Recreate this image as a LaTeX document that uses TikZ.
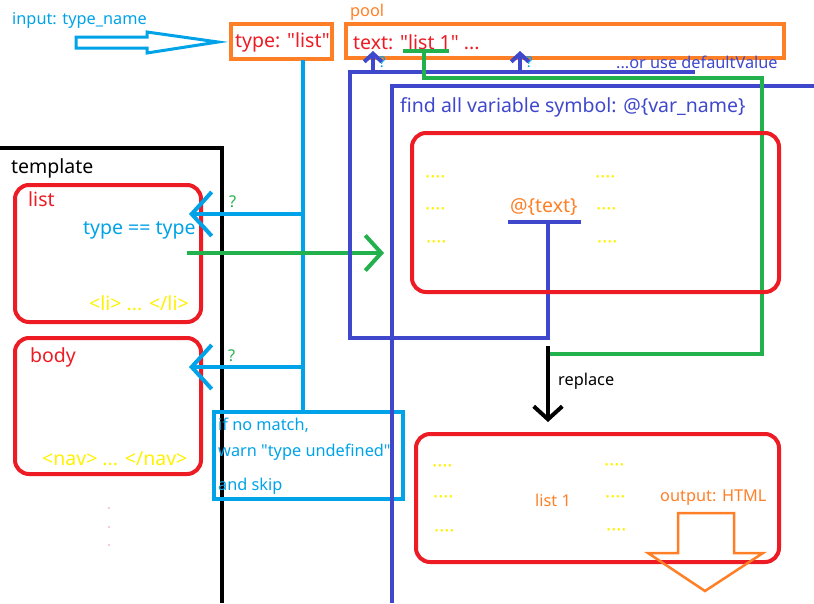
\documentclass[tikz,border=0pt]{standalone}
\usepackage{fontspec}
\setmainfont{Noto Sans}[Ligatures=TeXOff]
\usetikzlibrary{arrows.meta}
\definecolor{cyn}{HTML}{00A2E8}
\definecolor{rd}{HTML}{ED1C24}
\definecolor{org}{HTML}{FF7F27}
\definecolor{blu}{HTML}{3F48CC}
\definecolor{grn}{HTML}{22B14C}
\definecolor{ylw}{HTML}{FFF200}
\begin{document}
\begin{tikzpicture}[x=1pt,y=-1pt,
  lbl/.style={inner sep=0pt, anchor=west, font=\fontsize{16.3}{19}\selectfont},
  big/.style={inner sep=0pt, anchor=west, font=\fontsize{19.5}{23}\selectfont},
  dots/.style={inner sep=0pt, anchor=west, text=ylw, font=\fontsize{19}{23}\selectfont\bfseries},
  fat/.style={line width=4pt},
  redbox/.style={draw=rd, fat, rounded corners=14pt},
  orgbox/.style={draw=org, fat},
  barb/.style={-{Straight Barb[length=#1pt,width=2.2*#1pt]}},
]
\useasboundingbox (0,0) rectangle (814,603);
% input
\node[lbl,text=cyn] (input) at (12,20) {input: type\_name};
\draw[cyn,line width=3pt] (76,37) -- (147,37) -- (147,32) -- (218,42) -- (147,53) -- (147,48) -- (76,48) -- cycle;
% type box
\node[orgbox, minimum width=101pt, minimum height=35pt] (typebox) at (281.5,41.5) {};
\node[big,text=rd] (typetxt) at (235,42) {type: "list"};
% pool
\node[lbl,text=org] (pooltxt) at (350,12) {pool};
\node[orgbox, minimum width=438pt, minimum height=34pt] (pool) at (565,41) {};
\node[big,text=rd] (pooltext) at (353,42) {text: "list 1" ...};
% template
\coordinate (t0) at (0,148);
\coordinate (t1) at (222,148);
\coordinate (t2) at (222,603);
\draw[black,fat] (t0) -- (t1) -- (t2);
\node[big,font=\fontsize{19.5}{23}\selectfont\bfseries] (tpl) at (11,168) {template};
% list box
\draw[redbox] (15,185) rectangle (201,322);
\node[big,text=rd] (listtxt) at (28,199) {list};
\node[big,text=cyn] (typeeq) at (83,230) {type == type};
\node[big,text=ylw] (li) at (89,303) {<li> ... </li>};
% body box
\draw[redbox] (15,338) rectangle (201,474);
\node[big,text=rd] (bodytxt) at (30,357) {body};
\node[big,text=ylw] (nav) at (42,459) {<nav> ... </nav>};
\fill[rd] (109,508) circle (0.7) (109,527) circle (0.7) (109,545) circle (0.7);
% warn box
\node[draw=cyn, line width=3.5pt, minimum width=189pt, minimum height=87pt] (warn) at (308.5,455.5) {};
\node[lbl,text=cyn] (w1) at (218,425) {if no match,};
\node[lbl,text=cyn] (w2) at (218,452) {warn "type undefined"};
\node[lbl,text=cyn] (w3) at (218,486) {and skip};
% cyan lines
\coordinate (ctop) at (303,60);
\coordinate (cbot) at (303,410);
\draw[cyn,fat] (ctop) -- (cbot);
\coordinate (c1) at (303,214);
\coordinate (c1e) at (189,214);
\coordinate (c2) at (303,367);
\coordinate (c2e) at (189,367);
\draw[cyn,fat,barb=20] (c1) -- (c1e);
\draw[cyn,fat,barb=20] (c2) -- (c2e);
\node[lbl,text=grn] (q1) at (229,202) {?};
\node[lbl,text=grn] (q2) at (228,356) {?};
% green arrow
\coordinate (g0) at (187,253);
\coordinate (g1) at (384,253);
\draw[grn,fat,barb=16] (g0) -- (g1);
% blue outer
\coordinate (b0) at (695,72);
\coordinate (b1) at (350,72);
\coordinate (b2) at (350,338);
\coordinate (b3) at (548,338);
\coordinate (b4) at (548,222);
\draw[blu,fat] (b0) -- (b1) -- (b2) -- (b3) -- (b4);
\coordinate (u0) at (508,222);
\coordinate (u1) at (581,222);
\draw[blu,fat] (u0) -- (u1);
\coordinate (a1s) at (373,72);
\coordinate (a1e) at (373,51);
\coordinate (a2s) at (520,72);
\coordinate (a2e) at (520,51);
\draw[blu,fat,barb=8] (a1s) -- (a1e);
\draw[blu,fat,barb=8] (a2s) -- (a2e);
\node[lbl,text=cyn,font=\fontsize{15}{17}\selectfont\bfseries] (q3) at (379,62) {?};
\node[lbl,text=cyn,font=\fontsize{15}{17}\selectfont\bfseries] (q4) at (526,62) {?};
\node[lbl,text=blu] (dflt) at (616,62) {...or use defaultValue};
% blue inner
\coordinate (i0) at (814,86);
\coordinate (i1) at (392,86);
\coordinate (i2) at (392,603);
\draw[blu,fat] (i0) -- (i1) -- (i2);
\node[big,text=blu] (find) at (400,107) {find all variable symbol: @\{var\_name\}};
% green path
\coordinate (gu0) at (403,51);
\coordinate (gu1) at (449,51);
\draw[grn,fat] (gu0) -- (gu1);
\coordinate (gp0) at (424,51);
\coordinate (gp1) at (424,78);
\coordinate (gp2) at (762,78);
\coordinate (gp3) at (762,354);
\coordinate (gp4) at (550,354);
\draw[grn,fat] (gp0) -- (gp1) -- (gp2) -- (gp3) -- (gp4);
% middle red box
\draw[redbox] (412,133) rectangle (779,292);
\node[dots] (d1) at (425,180) {····};
\node[dots] (d2) at (425,212) {····};
\node[dots] (d3) at (426,245) {····};
\node[dots] (d4) at (595,180) {····};
\node[dots] (d5) at (596,212) {····};
\node[dots] (d6) at (597,245) {····};
\node[big,text=org] (var) at (510,207) {@\{text\}};
% replace
\coordinate (r0) at (548,346);
\coordinate (r1) at (548,422);
\draw[black,fat,barb=13] (r0) -- (r1);
\node[lbl] (repl) at (558,381) {replace};
% bottom red box
\draw[redbox] (416,434) rectangle (779,562);
\node[dots] (e1) at (432,469) {····};
\node[dots] (e2) at (433,500) {····};
\node[dots] (e3) at (434,534) {····};
\node[dots] (e4) at (604,468) {····};
\node[dots] (e5) at (605,500) {····};
\node[dots] (e6) at (606,533) {····};
\node[lbl,text=org] (list1) at (535,500) {list 1};
\node[lbl,text=org] (outp) at (660,498) {output: HTML};
\draw[org,line width=2.5pt] (678,513) -- (734,513) -- (734,553) -- (763,553) -- (705,591) -- (648,553) -- (678,553) -- cycle;
\end{tikzpicture}
\end{document}
